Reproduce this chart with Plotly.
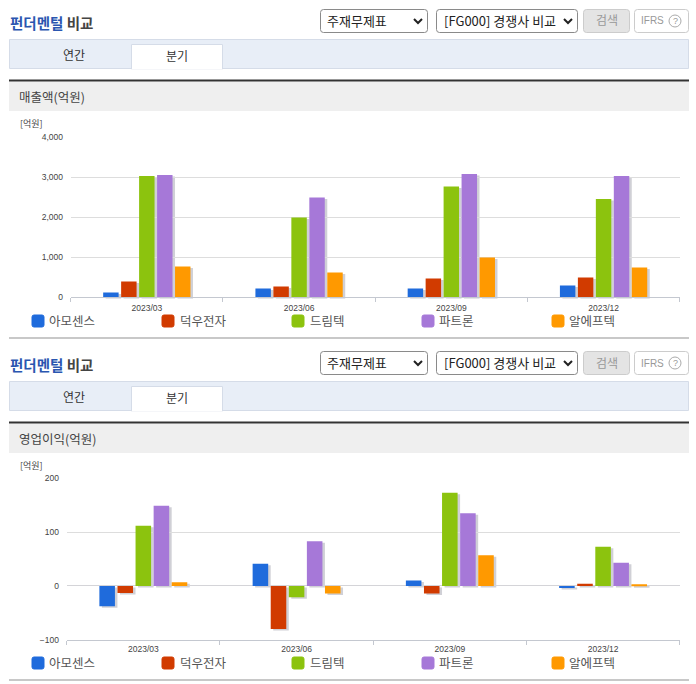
import plotly.graph_objects as go

W = 696
H = 684
KR = "Noto Sans CJK KR"
NUM = "Liberation Sans"

quarters = ["2023/03", "2023/06", "2023/09", "2023/12"]
companies = ["아모센스", "덕우전자", "드림텍", "파트론", "알에프텍"]
colors = ["#1f6bdc", "#d13b00", "#8cc30e", "#a678d8", "#ff9900"]

# 매출액
sales_amosense = [117, 217, 217, 292]
sales_dukwoo = [392, 267, 467, 492]
sales_dreamtech = [3033, 1992, 2767, 2458]
sales_partron = [3058, 2492, 3083, 3033]
sales_rftech = [767, 617, 992, 742]

# 영업이익
op_amosense = [-38, 41, 10, -4]
op_dukwoo = [-13, -80, -14, 4]
op_dreamtech = [112, -21, 173, 73]
op_partron = [149, 83, 135, 43]
op_rftech = [7, -14, 57, 2]

sales = [sales_amosense, sales_dukwoo, sales_dreamtech, sales_partron, sales_rftech]
op = [op_amosense, op_dukwoo, op_dreamtech, op_partron, op_rftech]


def px(x):
    return x / W


def py(y):
    return 1 - y / H


fig = go.Figure()
shapes = []
notes = []


def box(x0, y0, x1, y1, fill, line=None, width=1):
    shapes.append(dict(type="rect", xref="paper", yref="paper", layer="below",
                       x0=px(x0), x1=px(x1), y0=py(y1), y1=py(y0), fillcolor=fill,
                       line=dict(color=line or fill, width=width if line else 0)))


def rounded(x0, y0, x1, y1, r, fill, line):
    path = (f"M {px(x0 + r)} {py(y0)} L {px(x1 - r)} {py(y0)} Q {px(x1)} {py(y0)} {px(x1)} {py(y0 + r)} "
            f"L {px(x1)} {py(y1 - r)} Q {px(x1)} {py(y1)} {px(x1 - r)} {py(y1)} "
            f"L {px(x0 + r)} {py(y1)} Q {px(x0)} {py(y1)} {px(x0)} {py(y1 - r)} "
            f"L {px(x0)} {py(y0 + r)} Q {px(x0)} {py(y0)} {px(x0 + r)} {py(y0)} Z")
    shapes.append(dict(type="path", xref="paper", yref="paper", layer="below", path=path,
                       fillcolor=fill, line=dict(color=line, width=1)))


def chevron(x, y):
    path = f"M {px(x - 4)} {py(y - 2)} L {px(x)} {py(y + 2)} L {px(x + 4)} {py(y - 2)}"
    shapes.append(dict(type="path", xref="paper", yref="paper", path=path,
                       line=dict(color="#222222", width=2)))


def text(x, y, s, size=12, color="#444444", anchor="left", font=KR):
    notes.append(dict(xref="paper", yref="paper", x=px(x), y=py(y), text=s, showarrow=False,
                      xanchor=anchor, yanchor="middle", borderpad=0, borderwidth=0,
                      font=dict(family=font, size=size, color=color)))


def panel(dy, header):
    text(9.5, 23 + dy, '<b><span style="color:#2a56b0">펀더멘털</span> 비교</b>', size=14.5, color="#444444")

    rounded(320.5, 9.5 + dy, 427.5, 32.5 + dy, 3, "#ffffff", "#8a8a8a")
    text(327, 20.5 + dy, "주재무제표", size=13, color="#222222")
    chevron(418, 21 + dy)
    rounded(436.5, 9.5 + dy, 577.5, 32.5 + dy, 3, "#ffffff", "#8a8a8a")
    text(444, 20.5 + dy, "[FG000] 경쟁사 비교", size=13, color="#222222")
    chevron(568, 21 + dy)
    rounded(583.5, 9.5 + dy, 629.5, 32.5 + dy, 3, "#e4e4e4", "#cccccc")
    text(606.5, 20 + dy, "검색", size=12, color="#999999", anchor="center")
    rounded(634.5, 9.5 + dy, 688.5, 32.5 + dy, 3, "#ffffff", "#cccccc")
    text(641, 21 + dy, "IFRS", size=10, color="#999999", font=NUM)
    shapes.append(dict(type="circle", xref="paper", yref="paper", layer="below",
                       x0=px(669), x1=px(681), y0=py(27 + dy), y1=py(15 + dy),
                       line=dict(color="#aaaaaa", width=1)))
    text(675, 21 + dy, "?", size=9, color="#999999", anchor="center", font=NUM)

    box(9.5, 39.5 + dy, 688.5, 68.5 + dy, "#e8eef7", "#d5dce8")
    box(131.5, 44.5 + dy, 222.5, 69 + dy, "#ffffff", "#d5dce8")
    box(132, 66 + dy, 222, 69.5 + dy, "#ffffff")
    text(74, 55 + dy, "연간", size=12, color="#333333", anchor="center")
    text(177, 55.5 + dy, "분기", size=12, color="#333333", anchor="center")

    box(9, 81.5 + dy, 689, 111 + dy, "#efefef")
    box(9, 79.5 + dy, 689, 81.5 + dy, "#333333")
    text(19, 96 + dy, header, size=12.5, color="#444444")
    text(20, 123 + dy, "[억원]", size=9, color="#444444")

    box(9, 337 + dy, 689, 339 + dy, "#c8c8c8")

    for name, color, sx, lx in zip(companies, colors, [32, 162, 292, 422, 552], [49, 180, 310, 439, 569]):
        rounded(sx, 315 + dy, sx + 12, 327 + dy, 2, color, color)
        text(lx, 320.5 + dy, name, size=12.5, color="#555555")


panel(0, "매출액(억원)")
panel(342, "영업이익(억원)")

# 그림자용 서브플롯을 먼저 넣어서 본 막대 아래에 깔리게 함
for n, series, x0, x1, ytop, ybot, yrange, dtick, standoff in [
    (1, sales, 70.7, 679.7, 137.3, 297.3, [0, 4000], 1000, 2),
    (3, op, 66.7, 679.7, 478.3, 639.7, [-100, 200], 100, 1),
]:
    main = n + 1
    for vals in series:
        fig.add_trace(go.Bar(x=quarters, y=vals, xaxis=f"x{n}", yaxis=f"y{n}", showlegend=False,
                             marker=dict(color="#d0d0d6", line=dict(width=0)), hoverinfo="skip"))
    for name, vals, color in zip(companies, series, colors):
        fig.add_trace(go.Bar(x=quarters, y=vals, name=name, xaxis=f"x{main}", yaxis=f"y{main}",
                             showlegend=False, marker=dict(color=color, line=dict(width=0))))

    fig.layout[f"xaxis{n}"] = dict(domain=[px(x0 + 2.5), px(x1 + 2.5)], visible=False,
                                   type="category", anchor=f"y{n}", fixedrange=True)
    fig.layout[f"yaxis{n}"] = dict(domain=[py(ybot + 1.5), py(ytop + 1.5)], visible=False,
                                   range=yrange, anchor=f"x{n}", fixedrange=True)
    fig.layout[f"xaxis{main}"] = dict(domain=[px(x0), px(x1)], type="category", anchor=f"y{main}",
                                      tickson="boundaries", ticks="outside", ticklen=4, tickcolor="#c4c8d0",
                                      ticklabelstandoff=standoff,
                                      showgrid=False, showline=True, linecolor="#c4c8d0", linewidth=1,
                                      tickfont=dict(family=NUM, size=8.5, color="#444444"), fixedrange=True)
    fig.layout[f"yaxis{main}"] = dict(domain=[py(ybot), py(ytop)], range=yrange, dtick=dtick, anchor=f"x{main}",
                                      tickformat=",d", showgrid=True, gridcolor="#dddddd", gridwidth=1,
                                      zeroline=True, zerolinecolor="#d4d4d8", zerolinewidth=1,
                                      ticks="outside", ticklen=5, tickcolor="rgba(0,0,0,0)",
                                      showline=False, tickfont=dict(family=NUM, size=8.5, color="#444444"),
                                      fixedrange=True)

fig.update_layout(width=W, height=H, margin=dict(l=0, r=0, t=0, b=0, pad=0, autoexpand=False), autosize=False,
                  paper_bgcolor="#ffffff", plot_bgcolor="rgba(0,0,0,0)",
                  barmode="group", bargap=0.41, bargroupgap=0.14, showlegend=False,
                  shapes=shapes, annotations=notes)

fig.write_html("out.html", config={"displayModeBar": False},
               post_script="document.body.style.margin='0';")
